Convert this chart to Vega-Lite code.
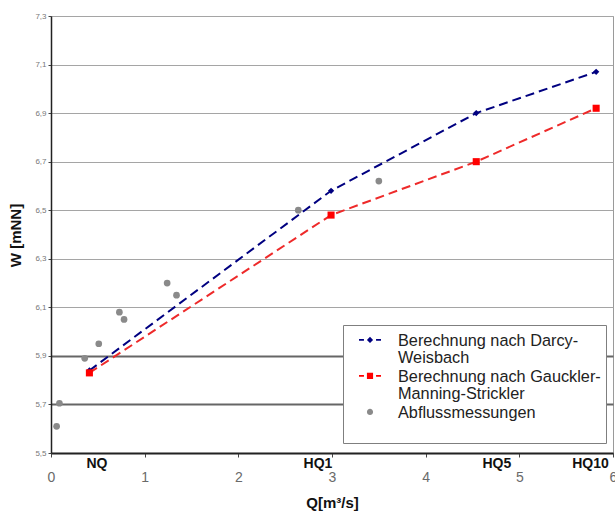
{
  "$schema": "https://vega.github.io/schema/vega-lite/v6.json",
  "width": 562,
  "height": 437,
  "autosize": {"type": "none"},
  "padding": {"left": 51, "top": 16, "right": 2, "bottom": 58},
  "background": "white",
  "config": {
    "font": "Liberation Sans",
    "view": {"stroke": "#9a9a9a", "strokeWidth": 1},
    "style": {"guide-label": {"lineHeight": 16.7}}
  },
  "datasets": {
    "obs": [
      {"series": "Berechnung nach Darcy-Weisbach", "Q": 0.41, "W": 5.84},
      {"series": "Berechnung nach Darcy-Weisbach", "Q": 2.99, "W": 6.58},
      {"series": "Berechnung nach Darcy-Weisbach", "Q": 4.54, "W": 6.9},
      {"series": "Berechnung nach Darcy-Weisbach", "Q": 5.82, "W": 7.07},
      {"series": "Berechnung nach Gauckler-Manning-Strickler", "Q": 0.41, "W": 5.83},
      {"series": "Berechnung nach Gauckler-Manning-Strickler", "Q": 2.99, "W": 6.48},
      {"series": "Berechnung nach Gauckler-Manning-Strickler", "Q": 4.54, "W": 6.7},
      {"series": "Berechnung nach Gauckler-Manning-Strickler", "Q": 5.82, "W": 6.92},
      {"series": "Abflussmessungen", "Q": 0.06, "W": 5.61},
      {"series": "Abflussmessungen", "Q": 0.09, "W": 5.705},
      {"series": "Abflussmessungen", "Q": 0.36, "W": 5.89},
      {"series": "Abflussmessungen", "Q": 0.51, "W": 5.95},
      {"series": "Abflussmessungen", "Q": 0.73, "W": 6.08},
      {"series": "Abflussmessungen", "Q": 0.78, "W": 6.05},
      {"series": "Abflussmessungen", "Q": 1.24, "W": 6.2},
      {"series": "Abflussmessungen", "Q": 1.34, "W": 6.15},
      {"series": "Abflussmessungen", "Q": 2.64, "W": 6.5},
      {"series": "Abflussmessungen", "Q": 3.5, "W": 6.62}
    ],
    "flows": [
      {"label": "NQ", "Q": 0.49, "W": 5.455},
      {"label": "HQ1", "Q": 2.85, "W": 5.455},
      {"label": "HQ5", "Q": 4.76, "W": 5.455},
      {"label": "HQ10", "Q": 5.76, "W": 5.455}
    ]
  },
  "data": {"name": "obs"},
  "encoding": {
    "x": {
      "field": "Q",
      "type": "quantitative",
      "scale": {"domain": [0, 6], "nice": false, "zero": false},
      "axis": {
        "title": "Q[m³/s]",
        "values": [0, 1, 2, 3, 4, 5, 6],
        "grid": false,
        "domainColor": "#222",
        "domainWidth": 1.5,
        "tickColor": "#444",
        "tickSize": 4,
        "labelFontSize": 14,
        "labelColor": "#6a6a6a",
        "labelBaseline": "middle",
        "labelPadding": 20,
        "labelFlush": false,
        "labelOverlap": false,
        "titleFontSize": 15,
        "titleFontWeight": "bold",
        "titleColor": "#111",
        "titleY": 49,
        "titleBaseline": "middle"
      }
    },
    "y": {
      "field": "W",
      "type": "quantitative",
      "scale": {"domain": [5.5, 7.3], "nice": false, "zero": false},
      "axis": {
        "title": "W [mNN]",
        "values": [5.5, 5.7, 5.9, 6.1, 6.3, 6.5, 6.7, 6.9, 7.1, 7.3],
        "labelExpr": "replace(format(datum.value, '.1f'), '.', ',')",
        "labelFontSize": 8,
        "labelColor": "#777",
        "labelPadding": 2,
        "tickSize": 3,
        "tickColor": "#444",
        "domainColor": "#222",
        "domainWidth": 1.5,
        "grid": true,
        "gridColor": {"condition": {"test": "datum.value < 6", "value": "#666"}, "value": "#a5a5a5"},
        "gridWidth": {"condition": {"test": "datum.value < 6", "value": 2}, "value": 1},
        "gridOpacity": 1,
        "titleFontSize": 15,
        "titleFontWeight": "bold",
        "titleColor": "#111",
        "titleX": -36,
        "titleY": 219,
        "titleBaseline": "middle"
      }
    }
  },
  "layer": [
    {
      "transform": [{"filter": "datum.series == 'Berechnung nach Darcy-Weisbach'"}],
      "mark": {"type": "line", "color": "#000080", "strokeDash": [9, 5], "strokeWidth": 2}
    },
    {
      "transform": [{"filter": "datum.series == 'Berechnung nach Gauckler-Manning-Strickler'"}],
      "mark": {"type": "line", "color": "#ee2a2a", "strokeDash": [9, 5], "strokeWidth": 2}
    },
    {
      "transform": [{"filter": "datum.series == 'Berechnung nach Darcy-Weisbach'"}],
      "mark": {"type": "point", "shape": "diamond", "filled": true, "color": "#000080", "size": 40, "opacity": 1}
    },
    {
      "transform": [{"filter": "datum.series == 'Berechnung nach Gauckler-Manning-Strickler'"}],
      "mark": {"type": "point", "shape": "square", "filled": true, "color": "#ff0000", "size": 50, "opacity": 1}
    },
    {
      "transform": [{"filter": "datum.series == 'Abflussmessungen'"}],
      "mark": {"type": "point", "shape": "circle", "filled": true, "color": "#8a8a8a", "size": 45, "opacity": 1}
    },
    {
      "transform": [{"filter": "datum.Q < 0"}],
      "mark": {"type": "point", "filled": true, "opacity": 1},
      "encoding": {
        "color": {
          "field": "series",
          "type": "nominal",
          "scale": {
            "domain": ["Berechnung nach Darcy-Weisbach", "Berechnung nach Gauckler-Manning-Strickler", "Abflussmessungen"],
            "range": ["#000080", "#ff0000", "#8a8a8a"]
          },
          "legend": {
            "title": null,
            "orient": "none",
            "legendX": 292,
            "legendY": 309,
            "fillColor": "white",
            "strokeColor": "#7f7f7f",
            "padding": 5,
            "symbolSize": 484,
            "symbolOffset": 11,
            "symbolOpacity": 1,
            "symbolStrokeWidth": 0,
            "labelOffset": 17,
            "labelFontSize": 16.3,
            "labelColor": "#222",
            "labelLimit": 300,
            "labelBaseline": "middle",
            "rowPadding": -1,
            "labelExpr": "datum.label == 'Berechnung nach Darcy-Weisbach' ? ['Berechnung nach Darcy-', 'Weisbach'] : datum.label == 'Berechnung nach Gauckler-Manning-Strickler' ? ['Berechnung nach Gauckler-', 'Manning-Strickler'] : [datum.label, ' ']"
          }
        },
        "shape": {
          "field": "series",
          "type": "nominal",
          "scale": {
            "domain": ["Berechnung nach Darcy-Weisbach", "Berechnung nach Gauckler-Manning-Strickler", "Abflussmessungen"],
            "range": [
              "M-1,-0.18H-0.55V-0.02H-1Z M0.55,-0.18H1V-0.02H0.55Z M0,-0.38L0.28,-0.1L0,0.18L-0.28,-0.1Z",
              "M-1,-0.18H-0.55V-0.02H-1Z M0.55,-0.18H1V-0.02H0.55Z M-0.28,-0.38H0.28V0.18H-0.28Z",
              "M0.28,-0.1A0.28,0.28 0 1,1 -0.28,-0.1A0.28,0.28 0 1,1 0.28,-0.1Z"
            ]
          }
        }
      }
    },
    {
      "data": {"name": "flows"},
      "mark": {"type": "text", "fontSize": 14, "fontWeight": "bold", "color": "#111", "baseline": "middle", "align": "center"},
      "encoding": {
        "text": {"field": "label", "type": "nominal"}
      }
    }
  ]
}
